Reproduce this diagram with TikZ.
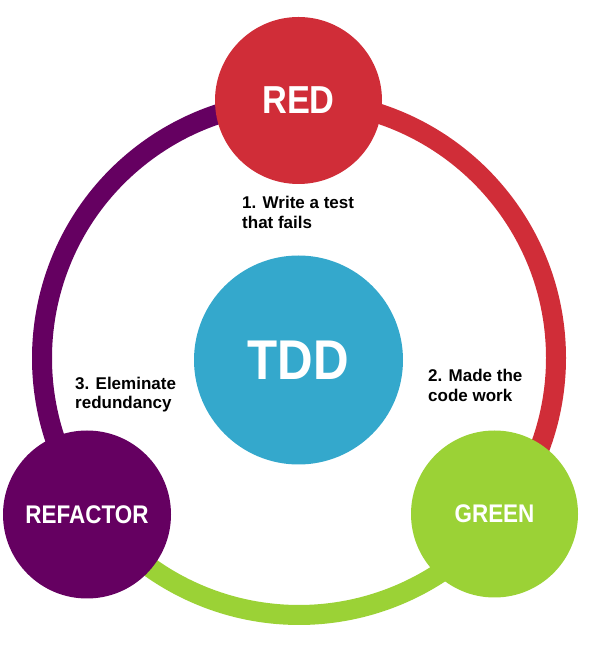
\documentclass[tikz,border=0pt]{standalone}
\usepackage{fontspec}
\usepackage{tikz}
\usetikzlibrary{positioning}
\setmainfont{Liberation Sans}
\newfontfamily\titlefont{Liberation Sans}[FakeStretch=0.88]
\definecolor{tddred}{RGB}{208, 45, 56}
\definecolor{tddgreen}{RGB}{155, 210, 54}
\definecolor{tddpurple}{RGB}{101, 0, 97}
\definecolor{tddblue}{RGB}{52, 168, 204}

\begin{document}
\begin{tikzpicture}[x=1pt, y=1pt]
\tikzstyle{phase} = [circle, minimum size=167pt, inner sep=0pt, text=white, font=\titlefont\bfseries\fontsize{25.5}{30}\selectfont]
\tikzstyle{note} = [anchor=north west, inner sep=0pt, align=left, font=\bfseries\fontsize{17}{19.5}\selectfont]
\tikzstyle{ring} = [line width=20pt]

\useasboundingbox (0,0) rectangle (598,653);

% the cycle
\coordinate (hub) at (299,295);
\draw [ring, tddred] (hub) ++(90:257) arc [start angle=90, end angle=-38.6, radius=257];
\draw [ring, tddgreen] (hub) ++(-38.6:257) arc [start angle=-38.6, end angle=-143.6, radius=257];
\draw [ring, tddpurple] (hub) ++(216.4:257) arc [start angle=216.4, end angle=90, radius=257];

\node (red) [phase, fill=tddred, font=\titlefont\bfseries\fontsize{39}{44}\selectfont] at (298.5,552.5) {RED};
\node (green) [phase, fill=tddgreen] at (494.5,139) {GREEN};
\node (refactor) [phase, fill=tddpurple, minimum size=168pt] at (87,138.5) {REFACTOR};
\node (tdd) [phase, fill=tddblue, minimum size=209pt, font=\titlefont\bfseries\fontsize{56}{60}\selectfont] at (298.5,293) {TDD};

\node (write) [note] at (242,457) {1. Write a test\\that fails};
\node (made) [note] at (428,283.7) {2. Made the\\code work};
\node (clean) [note] at (75,276.3) {3. Eleminate\\redundancy};
\end{tikzpicture}
\end{document}
